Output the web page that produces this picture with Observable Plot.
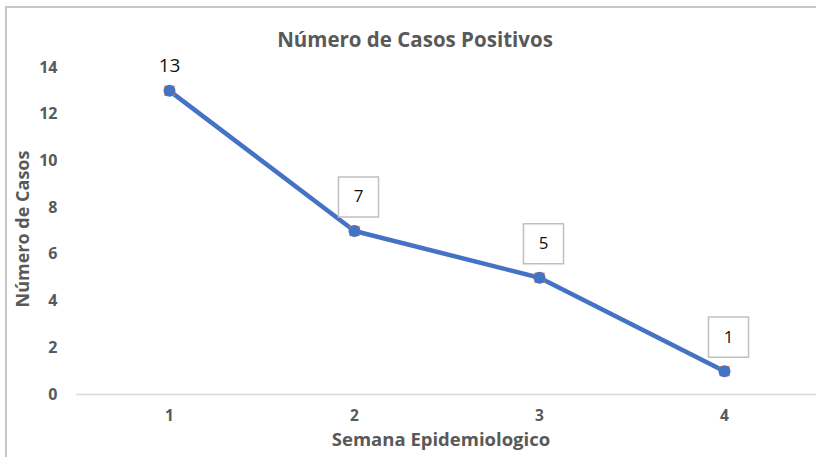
<!DOCTYPE html>
<html>
<head>
<meta charset="utf-8">
<script src="https://cdn.jsdelivr.net/npm/d3@7"></script>
<script src="https://cdn.jsdelivr.net/npm/@observablehq/plot@0.6"></script>
<style>
  html, body { margin: 0; padding: 0; background: #fff; overflow: hidden; }
  #wrap { position: relative; width: 816px; height: 457px; font-family: "Open Sans", sans-serif; }
  #frame { position: absolute; left: 5px; top: 6px; width: 900px; height: 500px;
           border-left: 2px solid #c8c8c8; border-top: 2px solid #c8c8c8; box-sizing: border-box; }
  .lbl { position: absolute; font-weight: 700; color: #595959; white-space: nowrap; line-height: 1; }
  #title { left: 415px; top: 39px; transform: translate(-50%, -50%); font-size: 20.5px; }
  #xlab { left: 441px; top: 439px; transform: translate(-50%, -50%); font-size: 18.5px; }
  #ylab { left: 22px; top: 229px; transform: translate(-50%, -50%) rotate(-90deg); font-size: 18px; }
  #chart { position: absolute; left: 0; top: 0; }
</style>
</head>
<body>
<div id="wrap">
  <div id="frame"></div>
  <div id="chart"></div>
  <div class="lbl" id="title">Número de Casos Positivos</div>
  <div class="lbl" id="xlab">Semana Epidemiologico</div>
  <div class="lbl" id="ylab">Número de Casos</div>
</div>
<script>
const semanas = [1, 2, 3, 4];
const casos = [13, 7, 5, 1];
const yTicks = [0, 2, 4, 6, 8, 10, 12, 14];

const data = semanas.map((s, i) => ({semana: s, casos: casos[i]}));
const boxed = data.slice(1);
const plain = data.slice(0, 1);

const chart = Plot.plot({
  width: 816,
  height: 457,
  marginTop: 67,
  marginBottom: 63,
  marginLeft: 76,
  marginRight: 0,
  style: {background: "transparent", fontFamily: "Open Sans, sans-serif"},
  x: {type: "point", domain: semanas, padding: 0.5, label: null},
  y: {domain: [0, 14], label: null},
  marks: [
    Plot.ruleY([0], {stroke: "#d9d9d9", strokeWidth: 1.5}),
    Plot.axisY({ticks: yTicks, tickSize: 0, tickPadding: 19, fontSize: 16, fontWeight: "bold", fill: "#595959", label: null}),
    Plot.axisX({tickSize: 0, tickPadding: 15, fontSize: 15.5, fontWeight: "bold", fill: "#595959", label: null}),
    Plot.line(data, {x: "semana", y: "casos", stroke: "#4472C4", strokeWidth: 4.5}),
    Plot.dot(data, {x: "semana", y: "casos", symbol: "square", r: 5.8, fill: "#ED7D31", stroke: "none"}),
    Plot.dot(data, {x: "semana", y: "casos", r: 6, fill: "#4472C4", stroke: "none"}),
    Plot.dot(boxed, {x: "semana", y: "casos", symbol: "square", r: 22.6, fill: "white", stroke: "#c0c0c0", strokeWidth: 1.5, dx: 4, dy: -34}),
    Plot.text(boxed, {x: "semana", y: "casos", text: d => String(d.casos), dx: 4, dy: -34, fontSize: 17, fill: "#111"}),
    Plot.text(plain, {x: "semana", y: "casos", text: d => String(d.casos), dx: 0, dy: -25, fontSize: 19, fill: "#111"})
  ]
});
document.getElementById("chart").appendChild(chart);
</script>
</body>
</html>
